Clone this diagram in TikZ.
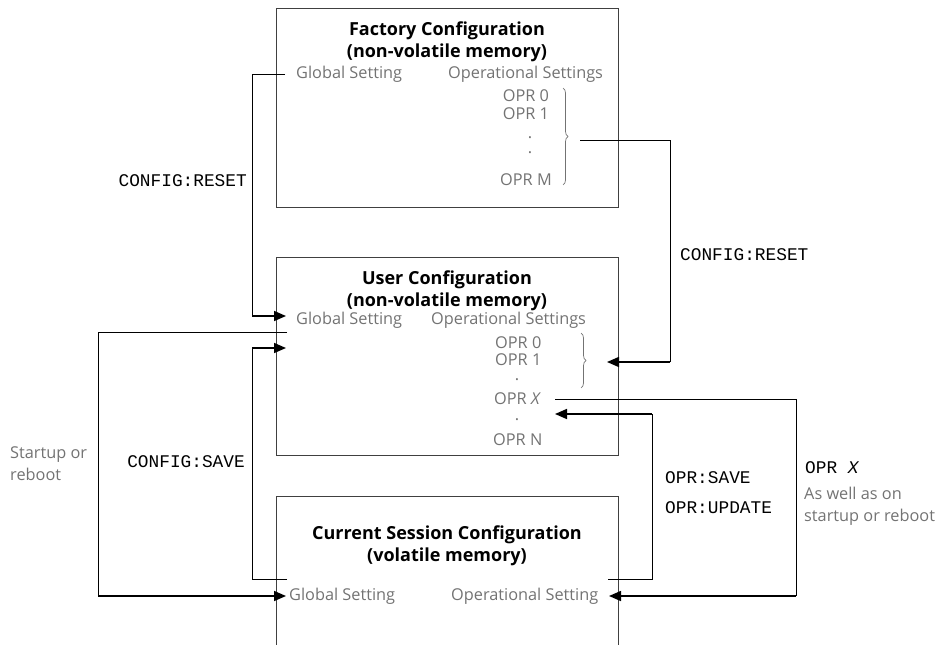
\documentclass[tikz,border=0pt]{standalone}
\usepackage{fontspec}
\setmainfont{Open Sans}
\setmonofont{Liberation Mono}
\usetikzlibrary{arrows.meta, positioning, decorations.pathreplacing}

\begin{document}
\begin{tikzpicture}[
      x=1pt, y=-1pt, >={Triangle[length=12pt,width=10pt]},
      memory/.style={draw=black!75, line width=0.8pt, anchor=north west, minimum width=342},
      title/.style={font=\fontsize{18}{22}\selectfont\bfseries, align=center},
      item/.style={font=\fontsize{16.3}{22}\selectfont, text=black!55, inner sep=0pt},
      cmd/.style={font=\fontsize{17.8}{20}\selectfont\ttfamily, inner sep=0pt},
      bracket/.style={draw=black!55, line width=0.7pt, decorate, decoration={brace, amplitude=5pt}},
      wire/.style={line width=0.8pt},
      feed/.style={->, line width=1.6pt},
      ]
      \useasboundingbox (0,0) rectangle (938,645);

      % the three memories
      \node[memory, minimum height=199] (fac) at (276,8)   {};
      \node[memory, minimum height=198] (usr) at (276,257) {};
      \node[memory, minimum height=170] (cur) at (276,496) {};

      \node[title] (facT) at (447,42)  {Factory Configuration\\(non-volatile memory)};
      \node[title] (usrT) at (447,291) {User Configuration\\(non-volatile memory)};
      \node[title] (curT) at (447,546) {Current Session Configuration\\(volatile memory)};

      % factory contents
      \node[item, anchor=west] (facG) at (296,74) {Global Setting};
      \node[item, anchor=west] (facO) at (448,74) {Operational Settings};
      \node[item] (fo0) at (526,96)  {OPR 0};
      \node[item] (fo1) at (526,114) {OPR 1};
      \node[item] (fd1) at (530,138) {.};
      \node[item] (fd2) at (530,153) {.};
      \node[item] (foM) at (526,180) {OPR M};
      \draw[bracket] (563,88) -- (563,185);

      % user contents
      \node[item, anchor=west] (usrG) at (296,320) {Global Setting};
      \node[item, anchor=west] (usrO) at (431,320) {Operational Settings};
      \node[item, anchor=west] (uo0) at (495,343) {OPR 0};
      \node[item, anchor=west] (uo1) at (495,360) {OPR 1};
      \node[item] (ud1) at (517,380) {.};
      \node[item, anchor=west] (uoX) at (494,399) {OPR \textit{X}};
      \node[item] (ud2) at (517,420) {.};
      \node[item, anchor=west] (uoN) at (493,440) {OPR N};
      \draw[bracket] (581,333) -- (581,388);

      % current session contents
      \node[item, anchor=west] (curG) at (289,596) {Global Setting};
      \node[item, anchor=west] (curO) at (451,596) {Operational Setting};

      % commands
      \node[cmd, anchor=east] (resetL) at (247,181) {CONFIG:RESET};
      \node[cmd, anchor=east] (saveL)  at (245,462) {CONFIG:SAVE};
      \node[item, anchor=north west, align=left] (boot) at (10,446) {Startup or\\reboot};
      \node[cmd, anchor=west] (resetR) at (680,255) {CONFIG:RESET};
      \node[cmd, anchor=west] (oprS) at (665,478) {OPR:SAVE};
      \node[cmd, anchor=west] (oprU) at (665,508) {OPR:UPDATE};
      \node[cmd, anchor=west] (oprX) at (805,468) {OPR \textit{X}};
      \node[item, anchor=north west, align=left] (also) at (804,487) {As well as on\\startup or reboot};

      % end points and corners
      \coordinate (fbr)  at (580,140);  \coordinate (k1) at (670,362);  \coordinate (ubr)  at (607,362);
      \coordinate (xout) at (555,399);  \coordinate (k2) at (796,596);  \coordinate (cop)  at (609,596);
      \coordinate (sout) at (608,579);  \coordinate (k3) at (652,414);  \coordinate (xin)  at (555,414);
      \coordinate (gout) at (285,74);   \coordinate (k4) at (252,316);  \coordinate (ugi1) at (286,316);
      \coordinate (uout) at (287,332);  \coordinate (k5) at (98,596);   \coordinate (cgin) at (286,596);
      \coordinate (cgo)  at (287,579);  \coordinate (k6) at (252,348);  \coordinate (ugi2) at (286,348);

      \draw[wire] (fbr) -| (k1);   \draw[feed] (k1) -- (ubr);
      \draw[wire] (xout) -| (k2);  \draw[feed] (k2) -- (cop);
      \draw[wire] (sout) -| (k3);  \draw[feed] (k3) -- (xin);
      \draw[wire] (gout) -| (k4);  \draw[feed] (k4) -- (ugi1);
      \draw[wire] (uout) -| (k5);  \draw[feed] (k5) -- (cgin);
      \draw[wire] (cgo) -| (k6);   \draw[feed] (k6) -- (ugi2);
    \end{tikzpicture}
\end{document}
